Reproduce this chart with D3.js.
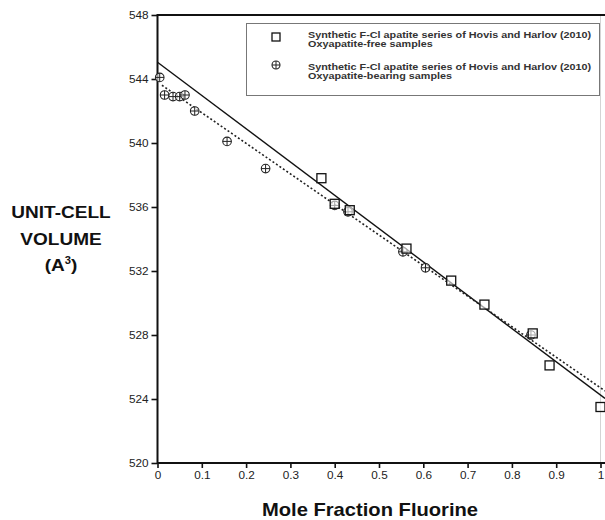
<!DOCTYPE html>
<html>
<head>
<meta charset="utf-8">
<script src="https://cdn.jsdelivr.net/npm/d3@7"></script>
<style>
body { margin: 0; background: #fff; }
svg { font-family: "Liberation Sans", Arial, sans-serif; }
</style>
</head>
<body>
<div id="chart"></div>
<script>
// oxyapatite-free samples (squares)
var freeX = [0.37, 0.40, 0.434, 0.562, 0.663, 0.738, 0.847, 0.885, 1.0];
var freeY = [537.8, 536.2, 535.8, 533.4, 531.4, 529.9, 528.1, 526.1, 523.5];
// oxyapatite-bearing samples (crossed circles)
var oxyX = [0.005, 0.016, 0.035, 0.05, 0.062, 0.084, 0.157, 0.244, 0.40, 0.43, 0.554, 0.605, 0.843];
var oxyY = [544.1, 543.0, 542.9, 542.9, 543.0, 542.0, 540.1, 538.4, 536.1, 535.7, 533.2, 532.2, 528.0];
// fitted lines [intercept, slope]
var fitFree = [545.05, -20.8];
var fitOxy = [543.8, -19.1];
var xTicks = [0, 0.1, 0.2, 0.3, 0.4, 0.5, 0.6, 0.7, 0.8, 0.9, 1];
var yTicks = [520, 524, 528, 532, 536, 540, 544, 548];
var legendLines = [
	["Synthetic F-Cl apatite series of Hovis and Harlov (2010)", "Oxyapatite-free samples"],
	["Synthetic F-Cl apatite series of Hovis and Harlov (2010)", "Oxyapatite-bearing samples"]
];

var W = 605, H = 520;
var svg = d3.select("#chart").append("svg").attr("width", W).attr("height", H);

var x = d3.scaleLinear().domain([0, 1]).range([157.5, 600.5]);
var y = d3.scaleLinear().domain([520, 548]).range([463, 15]);
var xEnd = x.invert(W);

// the original lettering is a little wide, so text gets a horizontal stretch
function wideText(g, tx, ty, sx) {
	return g.append("text").attr("transform", "translate(" + tx + "," + ty + ") scale(" + sx + ",1)");
}

// frame
svg.append("line").attr("x1", 600.5).attr("x2", 600.5).attr("y1", 15).attr("y2", 463)
	.attr("stroke", "#d4d4d4").attr("stroke-width", 1);
svg.append("line").attr("x1", 157).attr("x2", W).attr("y1", 15).attr("y2", 15)
	.attr("stroke", "#111").attr("stroke-width", 2);

// axes
var xAxis = svg.append("g").attr("transform", "translate(0,463)")
	.call(d3.axisBottom(x).tickValues(xTicks).tickSize(5).tickPadding(4)
		.tickFormat(function(d) { return d3.format("")(+d.toFixed(1)); }));
var yAxis = svg.append("g").attr("transform", "translate(157.5,0)")
	.call(d3.axisLeft(y).tickValues(yTicks).tickSize(6).tickPadding(2));
[xAxis, yAxis].forEach(function(a) {
	a.select(".domain").remove();
	a.selectAll(".tick line").attr("stroke", "#111").attr("stroke-width", 1.6);
	a.selectAll(".tick text").attr("fill", "#222").style("font-size", "10.5px")
		.style("font-family", "'Liberation Sans', Arial, sans-serif")
		.attr("transform", "scale(1.12,1)");
});
svg.append("line").attr("x1", 157.5).attr("x2", W).attr("y1", 463).attr("y2", 463)
	.attr("stroke", "#111").attr("stroke-width", 2);
svg.append("line").attr("x1", 157.5).attr("x2", 157.5).attr("y1", 14).attr("y2", 464)
	.attr("stroke", "#111").attr("stroke-width", 2);

// fit lines
var line = d3.line().x(function(d) { return x(d[0]); }).y(function(d) { return y(d[1]); });
function fitPts(f, x0) { return [[x0, f[0] + f[1] * x0], [xEnd, f[0] + f[1] * xEnd]]; }
svg.append("path").attr("d", line(fitPts(fitFree, 0))).attr("fill", "none")
	.attr("stroke", "#111").attr("stroke-width", 1.4);
svg.append("path").attr("d", line(fitPts(fitOxy, 0.01))).attr("fill", "none")
	.attr("stroke", "#222").attr("stroke-width", 1.6).attr("stroke-dasharray", "2,2.2");

// markers
function square(g, cx, cy, s) {
	g.append("rect").attr("x", cx - s / 2).attr("y", cy - s / 2).attr("width", s).attr("height", s)
		.attr("fill", "#fff").attr("fill-opacity", 0.6).attr("stroke", "#111").attr("stroke-width", 1.3);
}
function crossCircle(g, cx, cy, r) {
	g.append("circle").attr("cx", cx).attr("cy", cy).attr("r", r)
		.attr("fill", "#fff").attr("fill-opacity", 0.6).attr("stroke", "#222").attr("stroke-width", 1.1);
	g.append("path").attr("d", "M" + (cx - r) + "," + cy + "H" + (cx + r) + "M" + cx + "," + (cy - r) + "V" + (cy + r))
		.attr("stroke", "#222").attr("stroke-width", 1);
}
var pts = svg.append("g");
oxyX.forEach(function(d, i) { crossCircle(pts, x(d), y(oxyY[i]), 4.3); });
freeX.forEach(function(d, i) { square(pts, x(d), y(freeY[i]), 9); });

// legend
var lg = svg.append("g");
lg.append("rect").attr("x", 246.5).attr("y", 23.5).attr("width", 353).attr("height", 72)
	.attr("fill", "#fff").attr("stroke", "#777").attr("stroke-width", 1);
square(lg, 276, 37, 8);
crossCircle(lg, 276, 65, 4);
legendLines.forEach(function(ls, i) {
	ls.forEach(function(t, j) {
		wideText(lg, 308, 38 + i * 32 + j * 8.5, 1.2)
			.style("font-size", "9px").style("font-weight", "bold").attr("fill", "#333")
			.text(t);
	});
});

// axis titles
[["UNIT-CELL", 218], ["VOLUME", 245]].forEach(function(d) {
	wideText(svg, 61, d[1], 1.12).attr("text-anchor", "middle").style("font-weight", "bold")
		.style("font-size", "17px").attr("fill", "#111").text(d[0]);
});
var t3 = wideText(svg, 61, 271, 1.12).attr("text-anchor", "middle").style("font-weight", "bold")
	.style("font-size", "17px").attr("fill", "#111");
t3.append("tspan").text("(A");
t3.append("tspan").attr("dy", -7).style("font-size", "10px").text("3");
t3.append("tspan").attr("dy", 7).text(")");

wideText(svg, 370, 516, 1.12).attr("text-anchor", "middle")
	.style("font-weight", "bold").style("font-size", "18px").attr("fill", "#111")
	.text("Mole Fraction Fluorine");
</script>
</body>
</html>
